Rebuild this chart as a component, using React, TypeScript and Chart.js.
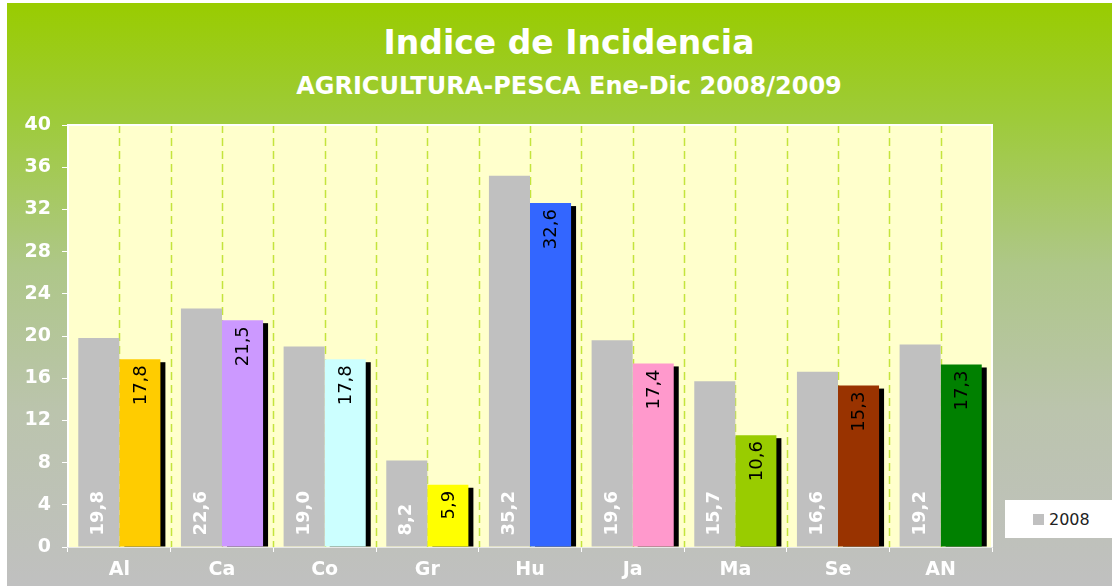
import React, { useEffect, useRef } from "react";
import { Chart, registerables } from "chart.js";

Chart.register(...registerables);

const categories = ["Al", "Ca", "Co", "Gr", "Hu", "Ja", "Ma", "Se", "AN"];
const values2008 = [19.8, 22.6, 19.0, 8.2, 35.2, 19.6, 15.7, 16.6, 19.2];
const values2009 = [17.8, 21.5, 17.8, 5.9, 32.6, 17.4, 10.6, 15.3, 17.3];
const colors2009 = ["#ffcc00", "#cc99ff", "#ccffff", "#ffff00", "#3366ff", "#ff99cc", "#99cc00", "#993300", "#008000"];
const yMin = 0;
const yMax = 40;
const yStep = 4;

const titleText = "Indice de Incidencia";
const subtitleText = "AGRICULTURA-PESCA Ene-Dic 2008/2009";
const legendLabel = "2008";

const FONT = "'DejaVu Sans', Verdana, sans-serif";

const fmt = (v: number) => v.toFixed(1).replace(".", ",");

const plotPlugin = {
  id: "plotDecor",
  beforeDatasetsDraw(chart: any) {
    const { ctx, chartArea } = chart;
    const { left, right, top, bottom } = chartArea;
    ctx.save();
    ctx.fillStyle = "#ffffcc";
    ctx.fillRect(left, top, right - left, bottom - top);
    const xs = chart.scales.x;
    const n = categories.length;
    const half = (xs.getPixelForValue(1) - xs.getPixelForValue(0)) / 2;
    ctx.strokeStyle = "#c4e43c";
    ctx.lineWidth = 1.5;
    ctx.setLineDash([8, 5]);
    for (let i = 0; i < n; i++) {
      const c = xs.getPixelForValue(i);
      const pts = [c];
      if (i < n - 1) pts.push(c + half);
      for (const p of pts) {
        const xx = Math.round(p) + 0.5;
        ctx.beginPath();
        ctx.moveTo(xx, top);
        ctx.lineTo(xx, bottom);
        ctx.stroke();
      }
    }
    ctx.setLineDash([]);
    ctx.strokeStyle = "#ffffff";
    ctx.lineWidth = 2;
    ctx.beginPath();
    ctx.moveTo(left, bottom);
    ctx.lineTo(left, top);
    ctx.lineTo(right, top);
    ctx.lineTo(right, bottom);
    ctx.stroke();
    ctx.restore();
  },
  beforeDatasetDraw(chart: any, args: any) {
    if (args.index !== 1) return;
    const { ctx } = chart;
    const meta = chart.getDatasetMeta(1);
    ctx.save();
    ctx.fillStyle = "#000000";
    meta.data.forEach((bar: any) => {
      const w = bar.width;
      ctx.fillRect(bar.x - w / 2 + 5, bar.y + 3, w, bar.base - bar.y - 3);
    });
    ctx.restore();
  },
  afterDatasetsDraw(chart: any) {
    const { ctx } = chart;
    ctx.save();
    const m0 = chart.getDatasetMeta(0);
    ctx.font = `bold 18px ${FONT}`;
    ctx.fillStyle = "#ffffff";
    ctx.textBaseline = "middle";
    ctx.textAlign = "left";
    m0.data.forEach((bar: any, i: number) => {
      ctx.save();
      ctx.translate(bar.x, bar.base - 11);
      ctx.rotate(-Math.PI / 2);
      ctx.fillText(fmt(values2008[i]), 0, 0);
      ctx.restore();
    });
    const m1 = chart.getDatasetMeta(1);
    ctx.font = `18px ${FONT}`;
    ctx.fillStyle = "#000000";
    ctx.textAlign = "right";
    m1.data.forEach((bar: any, i: number) => {
      ctx.save();
      ctx.translate(bar.x + 1, bar.y + 6);
      ctx.rotate(-Math.PI / 2);
      ctx.fillText(fmt(values2009[i]), 0, 0);
      ctx.restore();
    });
    ctx.restore();
  },
};

export default function App() {
  const ref = useRef<HTMLCanvasElement | null>(null);

  useEffect(() => {
    if (!ref.current) return;
    const chart = new Chart(ref.current, {
      type: "bar",
      data: {
        labels: categories,
        datasets: [
          {
            label: "2008",
            data: values2008,
            backgroundColor: "#c0c0c0",
            categoryPercentage: 0.8,
            barPercentage: 1,
          },
          {
            label: "2009",
            data: values2009,
            backgroundColor: colors2009,
            categoryPercentage: 0.8,
            barPercentage: 1,
          },
        ],
      },
      options: {
        responsive: false,
        animation: false,
        devicePixelRatio: 1,
        layout: { padding: { left: 0, right: 120, top: 122, bottom: 0 } },
        plugins: {
          legend: { display: false },
          tooltip: { enabled: false },
          title: { display: false },
        },
        scales: {
          x: {
            grid: {
              offset: true,
              drawOnChartArea: false,
              drawTicks: true,
              tickLength: 5,
              color: "#ffffff",
            },
            border: { display: true, color: "#e8e8e8", width: 2 },
            ticks: {
              color: "#ffffff",
              font: { family: FONT, size: 19, weight: "bold" },
              padding: 7,
            },
            afterFit(scale: any) {
              scale.height = 39;
            },
          },
          y: {
            min: yMin,
            max: yMax,
            grid: {
              drawOnChartArea: false,
              drawTicks: true,
              tickLength: 6,
              color: "#ffffff",
            },
            border: { display: false },
            ticks: {
              stepSize: yStep,
              color: "#ffffff",
              font: { family: FONT, size: 19, weight: "bold" },
              padding: 11,
            },
            afterFit(scale: any) {
              scale.width = 61;
            },
          },
        },
      },
      plugins: [plotPlugin],
    });
    return () => chart.destroy();
  }, []);

  return (
    <div
      style={{
        position: "fixed",
        left: 7,
        top: 3,
        width: 1105,
        height: 583,
        background:
          "linear-gradient(to bottom, #99cc00 0%, #9ecb3a 20%, #aec788 45%, #bbc4ad 70%, #c0c0c0 100%)",
        overflow: "hidden",
      }}
    >
      <div
        style={{
          position: "absolute",
          left: 62,
          width: 1000,
          top: 23,
          textAlign: "center",
          color: "#ffffff",
          font: `bold 33px ${FONT}`,
          lineHeight: 1,
        }}
      >
        {titleText}
      </div>
      <div
        style={{
          position: "absolute",
          left: 62,
          width: 1000,
          top: 71,
          textAlign: "center",
          color: "#ffffff",
          font: `bold 24px ${FONT}`,
          lineHeight: 1,
        }}
      >
        {subtitleText}
      </div>
      <canvas ref={ref} width={1105} height={583} style={{ position: "absolute", left: 0, top: 0 }} />
      <div
        style={{
          position: "absolute",
          left: 998,
          top: 497,
          width: 107,
          height: 38,
          background: "#ffffff",
          display: "flex",
          alignItems: "center",
          fontFamily: FONT,
          fontSize: 16,
          color: "#222222",
        }}
      >
        <span
          style={{
            display: "inline-block",
            width: 11,
            height: 11,
            background: "#c0c0c0",
            marginLeft: 28,
            marginRight: 5,
          }}
        />
        <span>{legendLabel}</span>
      </div>
    </div>
  );
}
